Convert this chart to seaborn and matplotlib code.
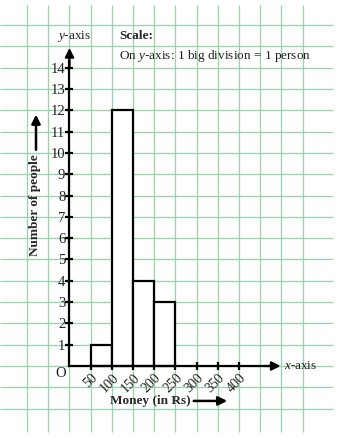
import matplotlib
matplotlib.use("Agg")
import matplotlib.pyplot as plt
import seaborn as sns
import numpy as np

# ---- data ----
bin_edges = [50, 100, 150, 200, 250]
counts = [1, 12, 4, 3]
bin_mids = [75, 125, 175, 225]
x_ticks = [50, 100, 150, 200, 250, 300, 350, 400]
x_tick_labels = ["50", "100", "150", "200", "250", "300", "350", "400"]
y_ticks = list(range(1, 15))
y_tick_labels = [str(v) for v in y_ticks]

sns.set_style("white")
plt.rcParams["font.family"] = ["Liberation Serif", "DejaVu Serif"]
plt.rcParams["mathtext.fontset"] = "custom"
plt.rcParams["mathtext.rm"] = "Liberation Serif"
plt.rcParams["mathtext.it"] = "Liberation Serif:italic"
plt.rcParams["mathtext.bf"] = "Liberation Serif:bold"

GRID = "#97d3a6"

fig = plt.figure(figsize=(3.49, 4.38), dpi=100)
ax = fig.add_axes([0, 0, 1, 1])
ax.set_xlim(-163.9, 659.2)
ax.set_ylim(-3.38, 17.18)

# graph-paper grid
for gx in np.arange(-100, 551, 50):
    ax.vlines(gx, -3.1, 16.95, color=GRID, lw=0.9, zorder=0)
for gy in np.arange(-2, 17, 1):
    ax.hlines(gy, -163.9, 621, color=GRID, lw=0.9, zorder=0)

# histogram bars
sns.histplot(x=bin_mids, weights=counts, bins=bin_edges, ax=ax,
             color="white", edgecolor="black", linewidth=1.6, alpha=1,
             zorder=2)

# axes through origin
ax.spines["left"].set_position(("data", 0))
ax.spines["bottom"].set_position(("data", 0))
ax.spines["right"].set_visible(False)
ax.spines["top"].set_visible(False)
for s in ("left", "bottom"):
    ax.spines[s].set_linewidth(1.6)
    ax.spines[s].set_color("black")
    ax.spines[s].set_zorder(3)
ax.spines["left"].set_bounds(0, 14.3)
ax.spines["bottom"].set_bounds(0, 470)

ax.annotate("", xy=(0, 14.93), xytext=(0, 14.0),
            arrowprops=dict(arrowstyle="-|>", lw=1.6, color="black",
                            mutation_scale=13, shrinkA=0, shrinkB=0), zorder=4)
ax.annotate("", xy=(498, 0), xytext=(460, 0),
            arrowprops=dict(arrowstyle="-|>", lw=1.6, color="black",
                            mutation_scale=13, shrinkA=0, shrinkB=0), zorder=4)

ax.set_yticks(y_ticks, y_tick_labels, fontsize=10.5)
ax.set_xticks(x_ticks, x_tick_labels, fontsize=10, rotation=45,
              ha="right", va="top", rotation_mode="anchor")
ax.tick_params(axis="y", direction="inout", length=6, width=1.6, pad=0,
               left=True, color="black", labelcolor="#222222")
ax.tick_params(axis="x", direction="inout", length=6, width=1.6, pad=1,
               bottom=True, color="black", labelcolor="#222222")
ax.set_xlabel("")
ax.set_ylabel("")

# texts
ax.text(-20, -0.33, "O", fontsize=10.5, ha="center", va="center", color="#222222")
ax.text(505, 0, "$x$-axis", fontsize=9.5, ha="left", va="center", color="#222222")
ax.text(10.6, 15.49, "$y$-axis", fontsize=9.5, ha="center", va="center", color="#222222")
ax.text(117, 15.49, "Scale:", fontsize=9.5, fontweight="bold", ha="left", va="center")
ax.text(117, 14.55, "On $y$-axis: 1 big division = 1 person", fontsize=9.5,
        ha="left", va="center", color="#222222")

ax.text(-81.4, 7.55, "Number of people", fontsize=9.5, fontweight="bold",
        rotation=90, ha="center", va="center")
ax.annotate("", xy=(-79, 11.8), xytext=(-79, 10.15),
            arrowprops=dict(arrowstyle="-|>", lw=1.8, color="black",
                            mutation_scale=13, shrinkA=0, shrinkB=0))

ax.text(189.9, -1.64, "Money (in Rs)", fontsize=9.5, fontweight="bold",
        ha="center", va="center")
ax.annotate("", xy=(372, -1.64), xytext=(293, -1.64),
            arrowprops=dict(arrowstyle="-|>", lw=1.8, color="black",
                            mutation_scale=13, shrinkA=0, shrinkB=0))

fig.savefig("out.png", dpi=100)
